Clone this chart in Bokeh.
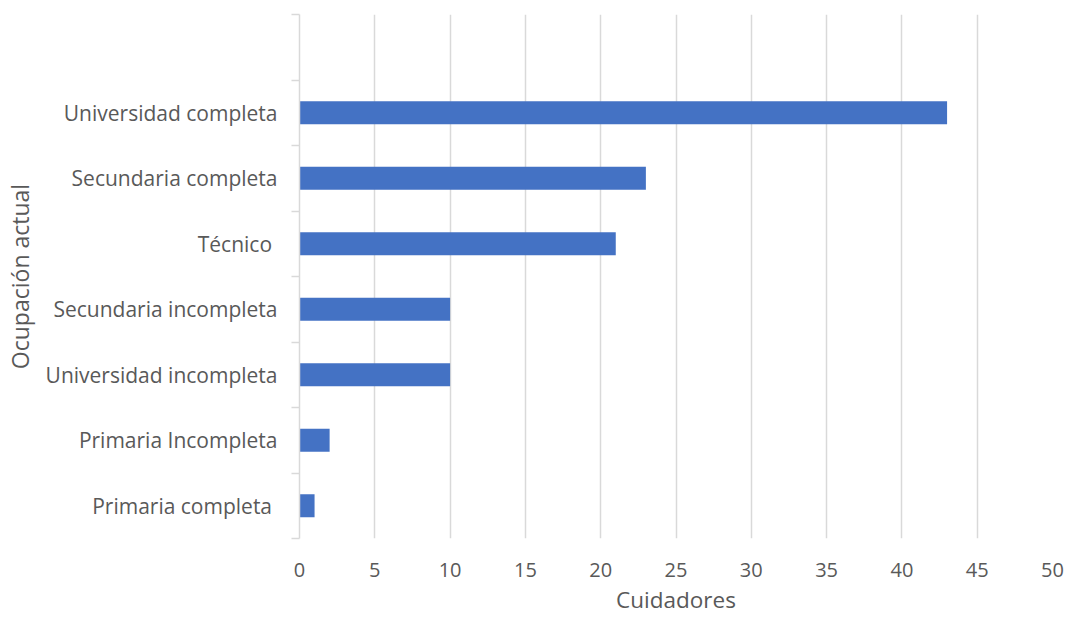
from bokeh.plotting import figure
from bokeh.models import FixedTicker, Range1d
from bokeh.embed import file_html
from bokeh.resources import INLINE

categories = ["Primaria completa ", "Primaria Incompleta", "Universidad incompleta",
              "Secundaria incompleta", "Técnico ", "Secundaria completa", "Universidad completa"]
values = [1, 2, 10, 10, 21, 23, 43]
x_ticks = list(range(0, 51, 5))

FONT = "Open Sans"
TXT = "#595959"
GRID = "#d9d9d9"

idx = list(range(len(categories)))

p = figure(width=1070, height=620, x_range=Range1d(0, 50), y_range=Range1d(-0.5, len(categories) + 0.5),
           output_backend="svg", toolbar_location=None,
           min_border_left=299, min_border_right=18, min_border_top=14, min_border_bottom=82)
p.outline_line_color = None
p.background_fill_color = "white"
p.border_fill_color = "white"

p.hbar(y=idx, right=values, height=0.35, color="#4472C4", line_color=None)

p.ygrid.grid_line_color = None
p.xgrid.grid_line_color = GRID
p.xgrid.grid_line_width = 1.5

ya = p.yaxis[0]
ya.ticker = FixedTicker(ticks=idx, minor_ticks=[i - 0.5 for i in range(len(categories) + 2)])
ya.major_label_overrides = {i: c for i, c in enumerate(categories)}
ya.major_tick_line_color = None
ya.major_tick_out = 0
ya.major_tick_in = 0
ya.minor_tick_out = 8
ya.minor_tick_in = 0
ya.minor_tick_line_color = GRID
ya.minor_tick_line_width = 1.5
ya.axis_line_color = GRID
ya.axis_line_width = 1.5
ya.major_label_standoff = 14
ya.major_label_text_font = FONT
ya.major_label_text_font_size = "21px"
ya.major_label_text_color = TXT
ya.axis_label = "Ocupación actual"
ya.axis_label_text_font = FONT
ya.axis_label_text_font_size = "23px"
ya.axis_label_text_font_style = "normal"
ya.axis_label_text_color = TXT
ya.axis_label_standoff = 7

xa = p.xaxis[0]
xa.ticker = FixedTicker(ticks=x_ticks, minor_ticks=[])
xa.axis_line_color = None
xa.major_tick_line_color = None
xa.major_tick_out = 0
xa.major_tick_in = 0
xa.minor_tick_line_color = None
xa.major_label_standoff = 24
xa.major_label_text_font = FONT
xa.major_label_text_font_size = "20px"
xa.major_label_text_color = TXT
xa.axis_label = "Cuidadores"
xa.axis_label_text_font = FONT
xa.axis_label_text_font_size = "22.5px"
xa.axis_label_text_font_style = "normal"
xa.axis_label_text_color = TXT
xa.axis_label_standoff = 4

open("out.html", "w").write(file_html(p, INLINE))
